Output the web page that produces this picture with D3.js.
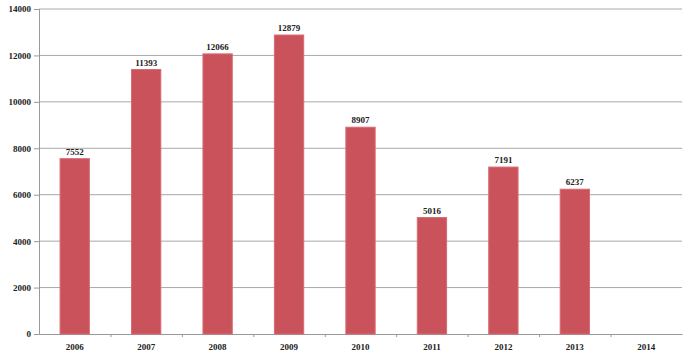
<!DOCTYPE html>
<html><head><meta charset="utf-8">
<script src="https://cdn.jsdelivr.net/npm/d3@7"></script>
<style>body{margin:0;background:#fff}svg{display:block}</style>
</head><body>
<svg id="c" width="692" height="356"></svg>
<script>
const categories = ["2006","2007","2008","2009","2010","2011","2012","2013","2014"];
const values = [7552, 11393, 12066, 12879, 8907, 5016, 7191, 6237, null];
const yTicks = [0, 2000, 4000, 6000, 8000, 10000, 12000, 14000];

const svg = d3.select("#c");
const m = {left: 39, right: 10, top: 9, bottom: 22};
const W = 692, H = 356;
const x = d3.scaleBand().domain(categories).range([m.left, W - m.right]).paddingInner(0).paddingOuter(0);
const y = d3.scaleLinear().domain([0, 14000]).range([H - m.bottom, m.top]);
const font = "'Liberation Serif', 'Times New Roman', serif";

// gridlines
svg.append("g").selectAll("line").data(yTicks.filter(d => d > 0)).join("line")
  .attr("x1", m.left).attr("x2", W - m.right)
  .attr("y1", d => y(d)).attr("y2", d => y(d))
  .attr("stroke", "#a8a8a8").attr("stroke-width", 1);

// y axis
const ya = svg.append("g").attr("transform", `translate(${m.left},0)`)
  .call(d3.axisLeft(y).tickValues(yTicks).tickSize(5).tickPadding(3).tickFormat(d3.format("d")));
ya.select(".domain").attr("stroke", "#999");
ya.selectAll(".tick line").attr("stroke", "#999");
ya.selectAll("text").attr("font-family", font).attr("font-size", 9).attr("font-weight", "bold").attr("fill", "#222");

// x axis
const xa = svg.append("g").attr("transform", `translate(0,${y(0)})`)
  .call(d3.axisBottom(x).tickSize(0).tickPadding(10));
xa.select(".domain").attr("stroke", "#999");
xa.selectAll("text").attr("font-family", font).attr("font-size", 9).attr("font-weight", "bold").attr("fill", "#222");
// category boundary ticks
svg.append("g").selectAll("line").data(categories.slice(1)).join("line")
  .attr("x1", d => x(d) + 0.5).attr("x2", d => x(d) + 0.5)
  .attr("y1", y(0)).attr("y2", y(0) + 3)
  .attr("stroke", "#999");

// bars
const bw = x.bandwidth() * 0.41;
const data = categories.map((c, i) => ({c, v: values[i]})).filter(d => d.v != null);
svg.append("g").selectAll("rect").data(data).join("rect")
  .attr("x", d => x(d.c) + (x.bandwidth() - bw) / 2)
  .attr("width", bw)
  .attr("y", d => y(d.v))
  .attr("height", d => y(0) - y(d.v))
  .attr("fill", "#c9525b")
  .attr("stroke", "#d86a72").attr("stroke-width", 1);

// value labels
svg.append("g").selectAll("text").data(data).join("text")
  .attr("x", d => x(d.c) + x.bandwidth() / 2)
  .attr("y", d => y(d.v) - 4)
  .attr("text-anchor", "middle")
  .attr("font-family", font).attr("font-size", 9).attr("font-weight", "bold").attr("fill", "#222")
  .text(d => d.v);
</script>
</body></html>
